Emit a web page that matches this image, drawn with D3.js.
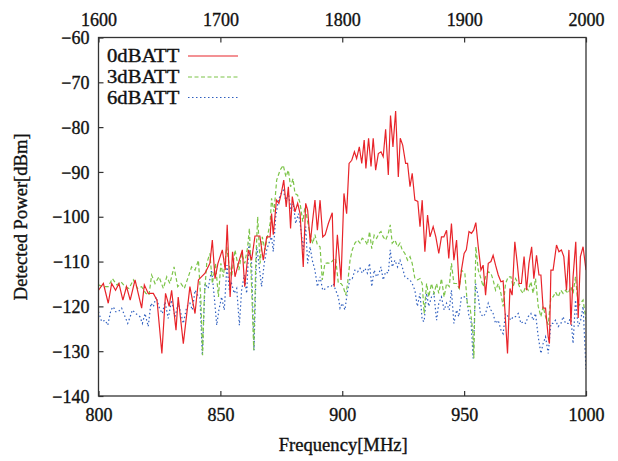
<!DOCTYPE html>
<html><head><meta charset="utf-8">
<script src="https://cdn.jsdelivr.net/npm/d3@7"></script>
<style>
body{margin:0;background:#fff;}
svg text{font-family:"Liberation Serif","Times New Roman",serif;fill:#111;stroke:#111;stroke-width:0.35px;}
</style></head>
<body><svg id="c" width="618" height="461"></svg>
<script>
// ---- data ----
const seriesNames = ["0dBATT","3dBATT","6dBATT"];
const xTicks = [800,850,900,950,1000];
const x2Ticks = [1600,1700,1800,1900,2000];
const yTicks = [-140,-130,-120,-110,-100,-90,-80,-70,-60];

const freq0 = [800,802,804,805.4,807,808.4,810,811.5,813,815,817.7,818.8,820.4,822.5,824,826,827.5,829,830,831.8,832.7,834.8,837.5,839.6,841,843.7,845.7,846.7,847.8,849,850.8,852,852.8,854,855,856,857.4,859,860,861.5,862.8,864.2,866.2,867.6,869,870.4,871,871.7,873,874,875,876,877,877.9,878.8,879.5,880.6,881.7,882.7,884,885,885.8,886.9,887.7,888.8,889.8,890.9,892,893,894.3,895.9,896.7,898,899.5,900.7,901.8,902.8,903.9,905,905.9,907,908,909,909.7,910.8,911.8,912.7,913.7,914.8,915.9,916.8,917.8,918.9,919.8,920.8,921.9,923,923.8,924.8,926,926.8,927.8,928.7,929.8,931,931.9,932.8,933.9,935,936,937.3,938.4,939.6,940.7,941.7,942.8,943.7,944.8,945.8,946.9,948,948.9,950,950.9,952,953,953.9,954.8,955.8,956.9,957.8,958.8,959.9,961,961.9,962.9,964,965.1,966,967.8,968.8,969.7,970.8,971.8,972.6,973.5,974.6,975.6,976.6,977.7,978.6,979.7,980.7,981.5,982.4,983.4,984.5,985,985.6,986.5,987.9,988.9,989.9,990.9,992,993,993.8,994.7,995.8,996.8,997.7,998.8,1000];
const att0 = [-116.4,-114.9,-119.3,-114.9,-116.4,-114.9,-118.6,-115.6,-118.6,-114.1,-120.4,-115.2,-117.1,-117.1,-118.6,-130.5,-117.1,-120,-116.4,-125.3,-117.9,-128.3,-115.6,-121.6,-114.1,-112.6,-110.4,-105.2,-113.8,-110.4,-107.4,-111.9,-101.8,-117.9,-107.8,-113.4,-110.4,-107.4,-115.6,-107.4,-109.7,-104.3,-104.3,-109.7,-104.5,-104.5,-99.3,-104,-96.3,-97,-94.8,-91.8,-97.8,-93.3,-102.6,-95.5,-98.9,-97,-99.3,-111.2,-97,-98.5,-105.9,-101.5,-96.3,-103,-96.3,-104.5,-104,-101.5,-99.1,-115.6,-104,-114.1,-94.8,-99.3,-88.1,-87.4,-85.5,-87,-84.4,-88.1,-82.9,-89.2,-82.5,-88.8,-82.5,-89.6,-85.9,-85.5,-86.6,-80.5,-90.7,-77.4,-84.4,-76.4,-91.1,-82.5,-84,-88.1,-88.1,-93.3,-90.3,-96.3,-96.6,-102.2,-96.3,-107.8,-99.6,-104.5,-102.2,-104.5,-108.2,-104.5,-104.5,-103,-109.3,-101.5,-109.7,-105.2,-116,-111.9,-108.2,-107.4,-103.3,-103.7,-103,-101.3,-106.7,-111.9,-110.8,-117.5,-110.4,-110,-108.6,-110.8,-113,-114.5,-114.3,-130.5,-116,-117.5,-105.6,-110.4,-114.9,-114.9,-108.9,-116.4,-110.4,-106.7,-113.8,-108.6,-113,-113,-120.4,-120.4,-126.8,-128.3,-111.9,-111.9,-106.3,-107.8,-107.4,-108.9,-116.4,-107.4,-124.1,-113.4,-105.6,-122.6,-108.9,-106.7,-111.9];

const freq3 = [800,802,804,805.7,807.5,809.2,810.9,812.5,814.3,816,817.7,819.4,820.7,821.8,823.2,824.8,826.6,828,829.3,831,832.5,833.8,835.2,836.6,838.2,839.6,841,842,842.7,843.4,844.4,845.7,846.7,848,849.2,850.2,851.2,852.6,853.5,854.6,856,857.6,858.7,860,861.2,861.9,862.8,863.7,864.5,865.3,866.3,867.2,868.3,869.4,870.4,871,872,873.1,874.5,875.8,876.9,877.9,878.8,879.8,880.6,881.7,882.7,883.8,884.7,885.8,886.8,887.9,888.8,889.8,890.9,891.8,892.9,894,895.1,896.2,897.3,898.4,899.5,900.4,901.4,902.2,903.2,904.1,905.2,906.3,907.3,908.2,909.3,910.3,911.2,912.1,913.1,914.1,915.1,915.9,916.8,917.8,918.9,919.7,920.5,921.6,922.7,923.7,924.6,925.7,926.8,927.8,928.7,929.8,930.9,931.9,932.8,933.6,934.6,935.5,936.6,937.7,938.7,939.6,940.7,941.8,942.8,943.9,944.8,945.8,946.9,948,948.9,950.3,951.4,952.4,953.5,954,954.8,955.8,956.7,957.8,958.8,959.9,961,961.9,962.9,964,965.1,966,967,968.1,969.2,970.1,971.1,972.2,973.3,974.2,975.2,976.3,977.4,978.3,979.3,980.4,981.5,982.4,983.4,984.5,985.6,986.5,987.5,988.6,989.7,990.6,991.6,992.7,993.8,994.7,995.7,996.8,997.8,998.8,1000];
const att3 = [-115.2,-115.6,-115.6,-113.8,-115.2,-114.5,-115.6,-116,-114.1,-116,-115.6,-117.1,-117.5,-113,-114.9,-113.4,-116,-113.4,-114.9,-111.2,-115.6,-114.9,-116,-113.8,-111.2,-111.9,-109.7,-118.6,-130.9,-117.9,-110.4,-108.2,-114.9,-110.4,-117.9,-110.4,-113.4,-106.7,-110.4,-113.4,-107.4,-111.9,-108.2,-110.4,-106.7,-102.6,-115.6,-129.8,-110.4,-100,-110.4,-104.5,-107.4,-104.1,-101.5,-95.9,-98.9,-91.8,-89.6,-88.5,-91.1,-89.6,-93.3,-91.5,-94.8,-95.2,-97,-101.1,-97.8,-101.1,-104,-106,-104,-106.3,-106.7,-114.1,-110.4,-110.3,-110.4,-109.7,-109.3,-114.9,-114.9,-115.6,-117.5,-114.9,-109.7,-107.4,-105.9,-105.2,-105.9,-104.8,-105.2,-106.3,-103.3,-107.1,-104.1,-104.8,-103.7,-103.3,-104.5,-105.2,-103.7,-101.8,-105.9,-105.2,-106.7,-105.9,-107.4,-108.2,-109.7,-108.9,-110.4,-113.8,-114.1,-113.8,-114.9,-121.6,-114.9,-117.9,-114.9,-117.1,-114.9,-117.1,-113.8,-117.9,-114.9,-115.6,-110.4,-114.9,-114.9,-116,-111.9,-112.6,-120,-120,-125.3,-131.6,-106.7,-111.9,-113.4,-115.6,-113.4,-112.3,-112.6,-114.1,-116.4,-114.9,-117.1,-120,-114.9,-113.4,-113.4,-115.6,-113.8,-114.9,-116.4,-117.1,-115.6,-116.4,-114.5,-117.1,-113.8,-120,-122.3,-120,-122.3,-124.1,-117.9,-117.9,-116.8,-117.9,-116.4,-117.1,-116.4,-117.1,-115.6,-117.1,-113.4,-120,-119.3,-118.6,-123];

const freq6 = [800,801.3,802.7,803.8,805.1,806.1,807,808.1,809.5,810.9,812,813,813.9,815.3,817,818,819.1,820.4,821.5,822.5,823.6,825,826.2,827.3,828.6,830,831.4,832.7,833.8,834.8,836.2,837.5,838.5,839.6,840.7,841.6,842.6,843.7,845,846.4,847.5,848.5,849.4,850.5,851.6,852.7,853.7,854.6,855.7,856.7,857.8,858.7,859.8,860.8,861.7,862.8,863.8,864.9,865.8,866.9,868,869,869.9,871,871.7,872.7,873.8,874.9,875.8,876.8,877.9,879,879.9,880.9,882,882.9,884,885,885.8,886.8,887.7,888.8,889.8,890.9,892,893.2,894.3,895.4,896.3,897.3,898.4,899.1,900,901.1,902.2,903.2,904.1,905.2,906.3,907.3,908.2,909.3,910.3,911.2,912.1,913.1,914.1,915.1,915.9,916.8,917.8,918.9,919.7,920.5,921.6,922.7,923.7,924.6,925.7,926.8,927.8,928.7,929.8,930.8,931.9,932.8,933.6,934.6,935.5,936.6,937.6,938.7,939.6,940.7,941.8,942.8,943.9,944.8,945.8,946.9,947.8,948.9,950,951,952,952.8,953.7,954.7,955.8,956.7,957.8,958.8,959.9,961,961.9,962.9,964,965.1,966,967,968.1,969.2,970.1,971.1,972.2,973.3,974.2,975.2,976.3,977.4,978.3,979.3,980.4,981.5,982.4,983.4,984.5,985.6,986.5,987.5,988.6,989.7,990.6,991.6,992.7,993.8,994.7,995.7,996.8,997.8,998.8,1000];
const att6 = [-121.2,-123.4,-123.1,-124.2,-120.8,-120.1,-121.2,-121.2,-120.4,-122.3,-123.8,-122.3,-120.8,-121.6,-122.3,-123.8,-121.6,-124.5,-119.3,-120.1,-117.9,-120.4,-121.6,-119,-122.7,-118.6,-122.3,-119.3,-121.6,-123.8,-120.1,-119.3,-120.8,-116.4,-117.5,-117.9,-130.9,-114.9,-116,-111.9,-117.9,-124.2,-120.8,-117.9,-120.8,-110.8,-116.4,-114.9,-117.1,-116,-124.2,-116.4,-113,-117.1,-105.9,-110.4,-129.8,-106.7,-110.4,-115.6,-110.4,-107.4,-105.9,-104.5,-107.8,-100,-96.3,-94.8,-94.1,-96.3,-94.8,-98.5,-97,-101.5,-99.3,-102.2,-107.4,-102.2,-110.4,-106.7,-109.7,-111.9,-115.6,-113.4,-116.4,-116,-115.6,-115.6,-114.9,-116.4,-117.9,-120.4,-119.3,-120.8,-116.4,-113.8,-113.8,-111.9,-112.3,-111.5,-112.6,-111.5,-112.6,-110.4,-115.6,-111.9,-113.4,-112.6,-111.2,-114.1,-112.3,-112.6,-107.4,-111.2,-109.7,-111.2,-109.7,-111.2,-113.4,-113.8,-114.1,-114.9,-116.4,-120,-117.1,-123.1,-123.4,-117.1,-120,-117.9,-117.1,-123.1,-119.3,-117.9,-120.8,-119.3,-120.8,-116.4,-123.8,-120.8,-122.3,-117.9,-117.9,-117.9,-122.3,-123.1,-131.6,-114.9,-117.9,-121.6,-122.3,-121.6,-119.3,-120.8,-121.6,-123.8,-123.1,-125.3,-126.1,-121.6,-122.3,-123.1,-122.3,-122.3,-121.6,-123.8,-123.4,-123.8,-122.3,-121.6,-123.1,-121.6,-126.8,-130.5,-128.3,-126.8,-130.5,-123.8,-123.8,-123.1,-124.5,-123.8,-122.3,-123.8,-123.8,-122.3,-128.3,-118.6,-124.5,-123.1,-120,-134];

// ---- layout ----
const L = 98.5, R = 586, T = 37.5, B = 396;
const svg = d3.select("#c");
const x = d3.scaleLinear().domain([800,1000]).range([L,R]);
const x2 = d3.scaleLinear().domain([1600,2000]).range([L,R]);
const y = d3.scaleLinear().domain([-140,-60]).range([B,T]);

const fs = 18;
const axColor = "#333";
const fmt = d3.format("d");

// axes
const gB = svg.append("g").attr("transform",`translate(0,${B})`)
  .call(d3.axisBottom(x).tickValues(xTicks).tickFormat(fmt).tickSizeInner(-5).tickSizeOuter(0).tickPadding(12));
const gT = svg.append("g").attr("transform",`translate(0,${T})`)
  .call(d3.axisTop(x2).tickValues(x2Ticks).tickFormat(fmt).tickSizeInner(-5).tickSizeOuter(0).tickPadding(12));
const gL = svg.append("g").attr("transform",`translate(${L},0)`)
  .call(d3.axisLeft(y).tickValues(yTicks).tickFormat(fmt).tickSizeInner(-5).tickSizeOuter(0).tickPadding(9));
[gB,gT,gL].forEach(g=>{
  g.select(".domain").remove();
  g.selectAll(".tick line").attr("stroke",axColor).attr("stroke-width",1.2);
  g.selectAll(".tick text").attr("font-size",fs).attr("font-family","Liberation Serif").attr("fill","#111");
});
gL.selectAll(".tick text").attr("dy","0.34em");

// data lines
const mk = (fr, v) => fr.map((f,i)=>({f, v:v[i]}));
const line = d3.line().x(d=>x(d.f)).y(d=>y(d.v));
const series = [
  {name:seriesNames[0], data:mk(freq0,att0), color:"#e8242a", dash:null},
  {name:seriesNames[1], data:mk(freq3,att3), color:"#7cc449", dash:"4,2.5"},
  {name:seriesNames[2], data:mk(freq6,att6), color:"#2f5fbf", dash:"1.5,2.5"}
];
svg.append("clipPath").attr("id","pc").append("rect")
  .attr("x",L).attr("y",T).attr("width",R-L).attr("height",B-T);
const gD = svg.append("g").attr("clip-path","url(#pc)");
[2,1,0].forEach(i=>{
  const s = series[i];
  gD.append("path").datum(s.data).attr("d",line)
    .attr("fill","none").attr("stroke",s.color).attr("stroke-width",1.2)
    .attr("stroke-dasharray",s.dash);
});

// frame
svg.append("rect").attr("x",L).attr("y",T).attr("width",R-L).attr("height",B-T)
  .attr("fill","none").attr("stroke",axColor).attr("stroke-width",1.3);

// legend
const legY = [56,77,97.5];
series.forEach((s,i)=>{
  svg.append("text").attr("transform",`translate(107,${legY[i]}) scale(1.15,1)`)
    .attr("dy","0.35em").attr("font-size",18).text(s.name);
  svg.append("line").attr("x1",188).attr("x2",238).attr("y1",legY[i]).attr("y2",legY[i])
    .attr("stroke",s.color).attr("stroke-width",1.2).attr("stroke-dasharray",s.dash);
});

// axis titles
svg.append("text").attr("x",(L+R)/2+1).attr("y",451).attr("text-anchor","middle")
  .attr("font-size",18.6).text("Frequency[MHz]");
svg.append("text").attr("transform",`translate(27,${(T+B)/2}) rotate(-90)`)
  .attr("text-anchor","middle").attr("font-size",18.6).text("Detected Power[dBm]");
</script></body></html>
